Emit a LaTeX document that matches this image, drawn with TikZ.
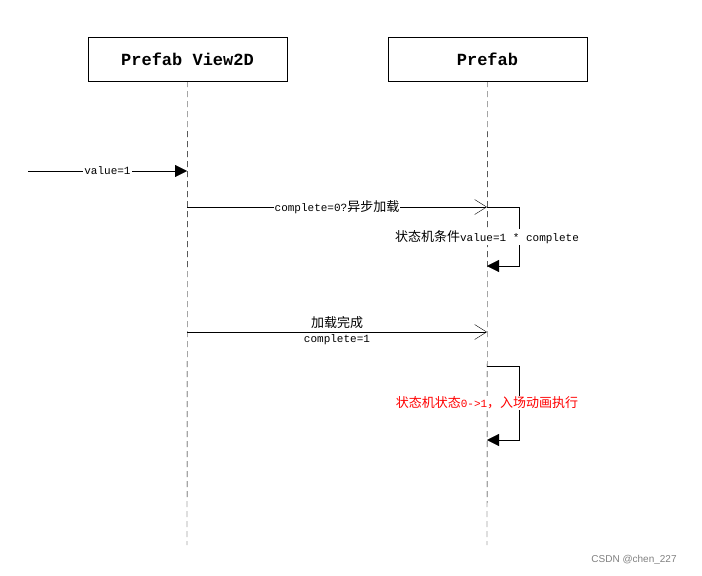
\documentclass[tikz,border=0pt]{standalone}
\usepackage{fontspec}
\setmainfont{Liberation Sans}
\setmonofont{Liberation Mono}
\newfontfamily\cjk{Noto Sans CJK SC}
\usetikzlibrary{arrows.meta}
\begin{document}
\begin{tikzpicture}[x=1pt,y=-1pt,
  obj/.style={draw,minimum width=199pt,minimum height=44pt,font=\ttfamily\bfseries\fontsize{17}{19}\selectfont},
  life/.style={dashed,dash pattern=on 6pt off 4pt},
  sync/.style={-{Triangle[length=12pt,width=12pt]}},
  async/.style={-{Straight Barb[length=12pt,width=15pt]}},
  lbl/.style={fill=white,inner sep=1pt,font=\ttfamily\fontsize{11}{12}\selectfont},
  cj/.style={font=\cjk\fontsize{13}{14}\selectfont}]
\useasboundingbox (0,0) rectangle (702,576);
\node[obj] (A) at (187.5,59) {Prefab View2D};
\node[obj] (B) at (487.5,59) {Prefab};
\coordinate (Aend) at (187,545);
\coordinate (Bend) at (487,545);
\draw[life] (A.south) -- (Aend);
\draw[life] (B.south) -- (Bend);
\coordinate (s0) at (28,171);
\coordinate (a1) at (187,171);
\draw[sync] (s0) -- (a1) node[lbl,midway] {value=1};
\coordinate (a2) at (187,207);
\coordinate (b2) at (487,207);
\draw[async] (a2) -- (b2) node[lbl,midway] {complete=0?{\cjk\fontsize{13}{14}\selectfont 异步加载}};
\coordinate (l1a) at (519,207);
\coordinate (l1b) at (519,266);
\coordinate (b3) at (487,266);
\draw[sync] (b2) -- (l1a) -- (l1b) -- (b3);
\node[lbl] (c1) at (487,237) {{\cjk\fontsize{13}{14}\selectfont 状态机条件}value=1 * complete};
\coordinate (a4) at (187,332);
\coordinate (b4) at (487,332);
\draw[async] (a4) -- (b4);
\node[lbl,cj] (t1) at (337,323) {加载完成};
\node[lbl] (t2) at (337,340) {complete=1};
\coordinate (b5) at (487,366);
\coordinate (l2a) at (519,366);
\coordinate (l2b) at (519,440);
\coordinate (b6) at (487,440);
\draw[sync] (b5) -- (l2a) -- (l2b) -- (b6);
\node[lbl,text=red] (c2) at (487,403) {{\cjk\fontsize{13}{14}\selectfont 状态机状态}0->1{\cjk\fontsize{13}{14}\selectfont ，入场动画执行}};
\node[text=gray,font=\fontsize{10}{11}\selectfont] (w) at (634,560) {CSDN @chen\_227};
\end{tikzpicture}
\end{document}
